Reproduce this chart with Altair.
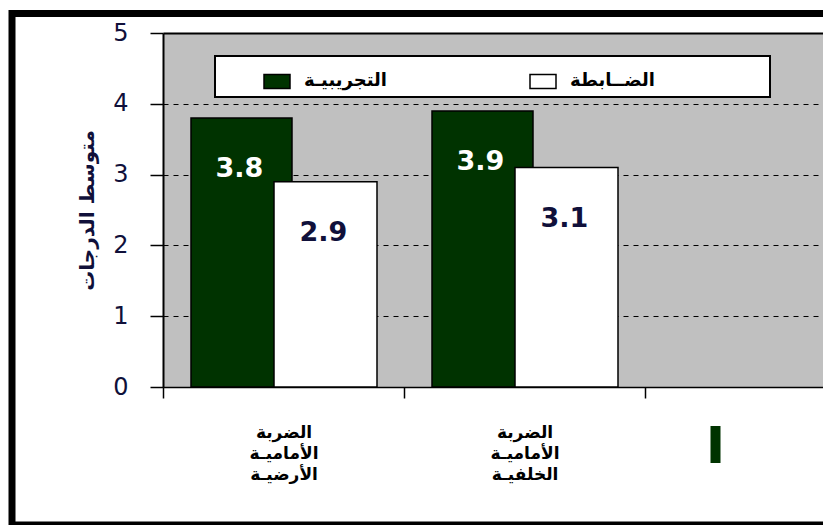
import altair as alt
import pandas as pd

# ---- data ----
categories = ["الضربة الأماميـة الأرضيـة", "الضربة الأماميـة الخلفيـة", "—"]
series = ["التجريبيـة", "الضــابطة"]
experimental = [3.8, 3.9]
control = [2.9, 3.1]
y_ticks = [0, 1, 2, 3, 4, 5]
y_title = "متوسط الدرجات"

rows = []
for c, v in zip(categories[:2], experimental):
    rows.append({"cat": c, "series": series[0], "value": v})
for c, v in zip(categories[:2], control):
    rows.append({"cat": c, "series": series[1], "value": v})
df = pd.DataFrame(rows)

GREEN = "#003300"
NAVY = "#10103a"

color_scale = alt.Scale(domain=series, range=[GREEN, "#FFFFFF"])
x_scale = alt.Scale(domain=categories, range=[0, 723], paddingInner=0, paddingOuter=0)
y_scale = alt.Scale(domain=[0, 5], nice=False)

x_axis = alt.Axis(
    title=None, tickBand="extent", tickSize=11, tickWidth=1.5, tickColor="black",
    domainColor="black", domainWidth=1.5, labelAngle=0,
    labelFont="DejaVu Sans", labelFontWeight="bold", labelFontSize=17,
    labelColor="black", labelLineHeight=21, labelPadding=26, labelBaseline="top",
    labelExpr="datum.value == '—' ? '' : split(datum.label, ' ')", grid=False,
)
y_axis = alt.Axis(
    title=y_title, values=y_ticks, format="d", tickSize=13, tickWidth=1.5,
    tickColor="black", domainColor="black", domainWidth=2,
    labelFont="DejaVu Sans", labelFontSize=24, labelColor=NAVY, labelPadding=22,
    titleFont="DejaVu Sans", titleFontSize=20, titleFontWeight="bold",
    titleColor=NAVY, titlePadding=15,
    grid=True, gridColor="black",
    gridDash={"condition": {"test": "datum.value === 5", "value": []}, "value": [5, 5]},
    gridWidth={"condition": {"test": "datum.value === 5", "value": 2}, "value": 1},
)

legend = alt.Legend(
    title=None, orient="none", legendX=100, legendY=34, direction="horizontal",
    symbolType="M-1,-0.54H1V0.54H-1Z", symbolSize=676, symbolStrokeColor="black",
    symbolStrokeWidth=1.5, labelFont="DejaVu Sans", labelFontWeight="bold",
    labelFontSize=18, labelColor="black", labelOffset=13, columnPadding=140, padding=0,
)

X = alt.X("cat:N", scale=x_scale, axis=x_axis, sort=categories)
Y = alt.Y("value:Q", scale=y_scale, axis=y_axis)
F = alt.Fill("series:N", scale=color_scale, legend=legend)

base = alt.Chart(df)
exp_f = alt.datum.series == series[0]
ctl_f = alt.datum.series == series[1]

green_bars = base.transform_filter(exp_f).mark_bar(
    width=101, xOffset=-42, stroke="black", strokeWidth=1.5
).encode(x=X, y=Y, fill=F)
white_bars = base.transform_filter(ctl_f).mark_bar(
    width=103, xOffset=42, stroke="black", strokeWidth=1.5
).encode(x=X, y=Y, fill=F)

green_text = base.transform_filter(exp_f).mark_text(
    dy=51, xOffset=-44, font="DejaVu Sans", fontWeight="bold", fontSize=27,
    baseline="middle", color="white"
).encode(x=X, y=Y, text=alt.Text("value:Q", format=".1f"))
white_text = base.transform_filter(ctl_f).mark_text(
    dy=51, xOffset=40, font="DejaVu Sans", fontWeight="bold", fontSize=27,
    baseline="middle", color=NAVY
).encode(x=X, y=Y, text=alt.Text("value:Q", format=".1f"))

# decorative marks: outer frame, legend box, small green stroke under 3rd slot
deco = pd.DataFrame({"cat": [categories[2]]})
frame = alt.Chart(deco).mark_rect(
    fill="transparent", stroke="black", strokeWidth=7
).encode(x=alt.value(-151), x2=alt.value(800), y=alt.value(-19.5), y2=alt.value(492))
legend_box = alt.Chart(deco).mark_rect(
    fill="white", stroke="black", strokeWidth=2
).encode(x=alt.value(52), x2=alt.value(607), y=alt.value(23), y2=alt.value(64))
mark3 = alt.Chart(deco).mark_bar(width=10, xOffset=-50, color=GREEN).encode(
    x=X, y=alt.value(393), y2=alt.value(430)
)

chart = alt.layer(
    frame, legend_box, green_bars, white_bars, green_text, white_text, mark3
).properties(
    width=660, height=354,
    padding={"left": 155, "top": 25, "right": 0, "bottom": 138},
    autosize=alt.AutoSizeParams(type="none"),
    background="white",
).configure_view(fill="#C0C0C0", stroke="transparent")

chart.save("out.html", embed_options={"renderer": "svg", "actions": False})
